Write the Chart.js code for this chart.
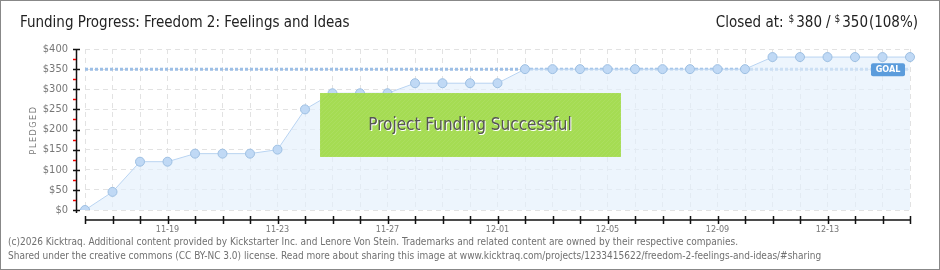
<!DOCTYPE html>
<html>
<head>
<meta charset="utf-8">
<script src="https://cdn.jsdelivr.net/npm/chart.js@4/dist/chart.umd.min.js"></script>
<style>
  html, body { margin: 0; padding: 0; background: #fff; }
  #wrap { width: 940px; height: 270px; position: relative; }
  canvas { display: block; }
</style>
</head>
<body>
<div id="wrap"><canvas id="myChart" width="940" height="270"></canvas></div>
<script>
const dates = ['11-16','11-17','11-18','11-19','11-20','11-21','11-22','11-23','11-24','11-25','11-26','11-27','11-28','11-29','11-30',
               '12-01','12-02','12-03','12-04','12-05','12-06','12-07','12-08','12-09','12-10','12-11','12-12','12-13','12-14','12-15','12-16'];
const pledged = [0,45,120,120,140,140,140,150,250,290,290,290,315,315,315,315,
                 350,350,350,350,350,350,350,350,350,380,380,380,380,380,380];
const goal = 350;
const yTicks = [0,50,100,150,200,250,300,350,400];

const title = 'Funding Progress: Freedom 2: Feelings and Ideas';
const footer1 = '(c)2026 Kicktraq. Additional content provided by Kickstarter Inc. and Lenore Von Stein. Trademarks and related content are owned by their respective companies.';
const footer2 = 'Shared under the creative commons (CC BY-NC 3.0) license. Read more about sharing this image at www.kicktraq.com/projects/1233415622/freedom-2-feelings-and-ideas/#sharing';

const FONT = '"DejaVu Sans Condensed", "DejaVu Sans", sans-serif';

// frame, titles, axes, goal line and the success banner
const decor = {
    id: 'decor',
    beforeDatasetsDraw(chart) {
        const c = chart.ctx, a = chart.chartArea;
        const y = chart.scales.y.getPixelForValue(goal);
        c.save();
        c.strokeStyle = '#9dbfe6';
        c.lineWidth = 3;
        c.setLineDash([3, 2]);
        c.beginPath();
        c.moveTo(a.left, y);
        c.lineTo(a.right, y);
        c.stroke();
        c.restore();
    },
    afterDatasetsDraw(chart) {
        const c = chart.ctx, a = chart.chartArea;
        const xs = chart.scales.x, ys = chart.scales.y;
        c.save();

        // goal tag
        const gy = ys.getPixelForValue(goal);
        c.fillStyle = '#5b9cdc';
        c.beginPath();
        c.roundRect(871, gy - 6, 34, 13, 2);
        c.fill();
        c.fillStyle = '#fff';
        c.font = 'bold 9px ' + FONT;
        c.textAlign = 'center';
        c.textBaseline = 'middle';
        c.fillText('GOAL', 888, gy + 1);

        // success banner
        c.fillStyle = 'rgba(160,218,70,0.93)';
        c.fillRect(320, 93, 301, 64);
        c.strokeStyle = 'rgba(255,255,255,0.07)';
        c.lineWidth = 1;
        c.beginPath();
        c.rect(320, 93, 301, 64);
        c.clip();
        for (let k = -80; k < 320; k += 4) {
            c.moveTo(320 + k, 157);
            c.lineTo(320 + k + 64, 93);
        }
        c.stroke();
        c.restore();
        c.save();
        c.font = '17px ' + FONT;
        c.textAlign = 'center';
        c.textBaseline = 'middle';
        c.fillStyle = '#fff';
        c.fillText('Project Funding Successful', 471, 127, 206);
        c.fillStyle = '#555';
        c.fillText('Project Funding Successful', 470, 126, 206);

        // x axis line + day ticks
        c.strokeStyle = '#111';
        c.lineWidth = 1.5;
        c.beginPath();
        c.moveTo(a.left, 220);
        c.lineTo(a.right, 220);
        dates.forEach((d, i) => {
            const px = Math.round(xs.getPixelForValue(i)) + 0.5;
            c.moveTo(px, 216);
            c.lineTo(px, 224);
        });
        c.stroke();

        // y axis line + ticks
        c.beginPath();
        c.moveTo(76.5, a.top);
        c.lineTo(76.5, a.bottom + 3);
        yTicks.forEach(v => {
            const py = Math.round(ys.getPixelForValue(v)) + 0.5;
            c.moveTo(73, py);
            c.lineTo(80, py);
        });
        c.stroke();
        c.strokeStyle = '#e00';
        c.lineWidth = 1.5;
        c.beginPath();
        yTicks.slice(1).forEach(v => {
            const py = Math.round(ys.getPixelForValue(v - 25)) + 0.5;
            c.moveTo(73, py);
            c.lineTo(76, py);
        });
        c.stroke();

        // y title
        c.save();
        c.translate(34, 130);
        c.rotate(-Math.PI / 2);
        c.fillStyle = '#777';
        c.font = '9px ' + FONT;
        c.letterSpacing = '1.5px';
        c.textAlign = 'center';
        c.textBaseline = 'middle';
        c.fillText('PLEDGED', 0, 0);
        c.restore();

        // titles
        c.textAlign = 'left';
        c.textBaseline = 'alphabetic';
        c.fillStyle = '#222';
        c.font = '15px ' + FONT;
        c.fillText(title, 20, 27, 330);

        c.textAlign = 'right';
        c.fillText('(108%)', 918, 27, 50);
        c.fillText('350', 868, 27);
        let w = c.measureText('350').width;
        c.font = '10px ' + FONT;
        c.fillText('$', 866 - w, 22);
        let x2 = 866 - w - c.measureText('$').width - 4;
        c.font = '15px ' + FONT;
        c.fillText('/', x2, 27);
        x2 -= c.measureText('/').width + 4;
        c.fillText('380', x2, 27);
        w = c.measureText('380').width;
        c.font = '10px ' + FONT;
        c.fillText('$', x2 - w - 2, 22);
        x2 = x2 - w - 2 - c.measureText('$').width - 5;
        c.font = '15px ' + FONT;
        c.fillText('Closed at:', x2, 27);

        // footer
        c.textAlign = 'left';
        c.fillStyle = '#707070';
        c.font = '10px ' + FONT;
        c.fillText(footer1, 8, 245, 752);
        c.fillText(footer2, 8, 259, 830);

        // frame
        c.strokeStyle = '#888';
        c.lineWidth = 2;
        c.strokeRect(0, 0, 940, 270);
        c.restore();
    }
};

new Chart(document.getElementById('myChart'), {
    type: 'line',
    data: {
        labels: dates,
        datasets: [{
            data: pledged,
            borderColor: '#b9d4f2',
            borderWidth: 1,
            backgroundColor: 'rgba(228,239,252,0.65)',
            fill: 'origin',
            tension: 0,
            pointRadius: 4.5,
            pointBackgroundColor: '#c0d9f5',
            pointBorderColor: '#9dbfe2',
            pointBorderWidth: 1
        }]
    },
    options: {
        responsive: false,
        animation: false,
        events: [],
        layout: { padding: { top: 49, right: 30, left: 0, bottom: 0 } },
        plugins: { legend: { display: false }, tooltip: { enabled: false } },
        scales: {
            x: {
                afterFit: s => { s.height = 60; },
                grid: { color: '#e2e2e2', drawTicks: false },
                border: { display: false, dash: [5, 4] },
                ticks: {
                    autoSkip: false,
                    maxRotation: 0,
                    padding: 14,
                    color: '#777',
                    font: { family: FONT, size: 9 },
                    callback: (v, i) => (i % 4 === 3 ? dates[i] : '')
                }
            },
            y: {
                min: 0,
                max: 400,
                afterFit: s => { s.width = 85; },
                grid: { color: '#e2e2e2', drawTicks: false },
                border: { display: false, dash: [5, 4] },
                ticks: {
                    stepSize: 50,
                    padding: 17,
                    color: '#777',
                    font: { family: FONT, size: 11 },
                    callback: v => '$' + v
                }
            }
        }
    },
    plugins: [decor]
});
</script>
</body>
</html>
